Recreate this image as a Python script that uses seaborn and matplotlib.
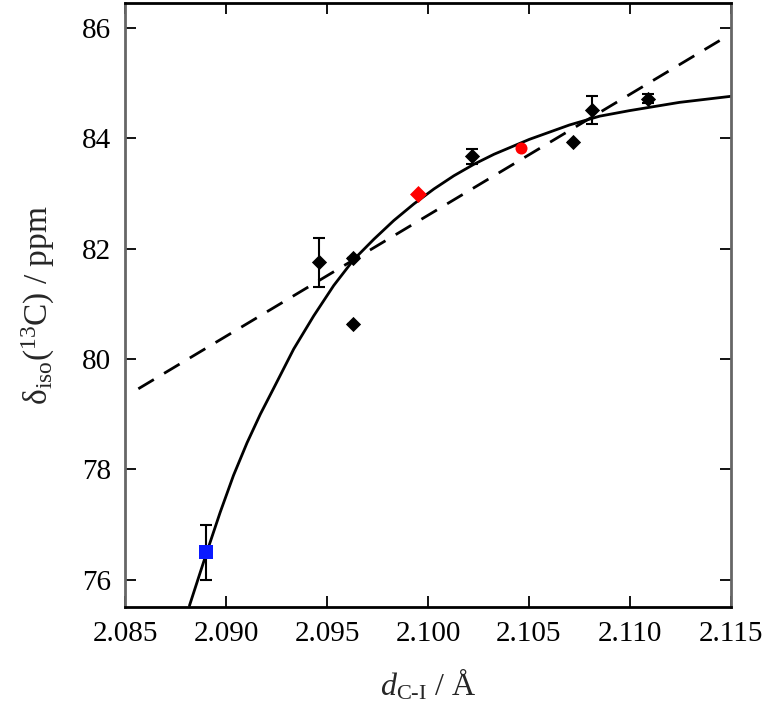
import matplotlib
matplotlib.use("Agg")
import matplotlib.pyplot as plt
import seaborn as sns

# measured shifts (black diamonds), with error bars
black_x = [2.0946, 2.0963, 2.0963, 2.1022, 2.1072, 2.1081, 2.1109]
black_y = [81.75, 81.83, 80.64, 83.67, 83.93, 84.51, 84.72]
black_err = [0.45, 0.0, 0.0, 0.13, 0.0, 0.26, 0.09]

red_diamond_x = [2.0995]
red_diamond_y = [82.99]
red_circle_x = [2.1046]
red_circle_y = [83.82]

blue_x = [2.0890]
blue_y = [76.5]
blue_err = [0.5]

# linear fit (dashed), end points
lin_x = [2.08566, 2.11444]
lin_y = [79.46, 85.77]

# non-linear fit (solid)
fit_x = [2.08819, 2.08905, 2.08971, 2.09037, 2.09104, 2.09170, 2.09236, 2.09335,
         2.09434, 2.09533, 2.09632, 2.09732, 2.09831, 2.09930, 2.10029, 2.10128,
         2.10228, 2.10327, 2.10502, 2.10700, 2.10850, 2.10997, 2.11245, 2.11500]
fit_y = [75.53, 76.50, 77.22, 77.89, 78.48, 79.00, 79.47, 80.18,
         80.78, 81.33, 81.80, 82.17, 82.51, 82.81, 83.08, 83.32,
         83.53, 83.71, 83.98, 84.24, 84.40, 84.50, 84.65, 84.76]

xticks = [2.085, 2.090, 2.095, 2.100, 2.105, 2.110, 2.115]
yticks = [76, 78, 80, 82, 84, 86]

sns.set_theme(style="ticks")
plt.rcParams.update({
    "font.family": ["Liberation Serif", "DejaVu Serif"],
    "mathtext.fontset": "custom",
    "mathtext.rm": "Liberation Serif",
    "mathtext.it": "Liberation Serif:italic",
    "mathtext.bf": "Liberation Serif:bold",
})

fig = plt.figure(figsize=(7.66, 7.23), dpi=100)
ax = fig.add_axes([0.1632, 0.16, 0.7911, 0.8358])

sns.lineplot(x=fit_x, y=fit_y, sort=False, estimator=None, color="black", lw=2.0, ax=ax)
sns.lineplot(x=lin_x, y=lin_y, sort=False, estimator=None, color="black", lw=2.0,
             dashes=False, ax=ax)
ax.lines[-1].set_dashes((6.5, 4.3))
for ln in ax.lines:
    ln.set_solid_joinstyle("round")

ax.errorbar(black_x, black_y, yerr=black_err, fmt="none", ecolor="black",
            elinewidth=1.5, capsize=4, capthick=1.5, zorder=3)
ax.errorbar(blue_x, blue_y, yerr=blue_err, fmt="none", ecolor="black",
            elinewidth=1.5, capsize=4, capthick=1.5, zorder=3)

sns.scatterplot(x=black_x, y=black_y, marker="D", s=60, color="black",
                edgecolor="black", linewidth=0, ax=ax, zorder=4)
sns.scatterplot(x=red_diamond_x, y=red_diamond_y, marker="D", s=75, color="red",
                linewidth=0, ax=ax, zorder=4)
sns.scatterplot(x=red_circle_x, y=red_circle_y, marker="o", s=75, color="red",
                linewidth=0, ax=ax, zorder=4)
sns.scatterplot(x=blue_x, y=blue_y, marker="s", s=110, color="#0a1aff",
                linewidth=0, ax=ax, zorder=4)

ax.set_xlim(2.085, 2.115)
ax.set_ylim(75.5, 86.45)
ax.set_xticks(xticks)
ax.set_xticklabels([f"{t:.3f}" for t in xticks])
ax.set_yticks(yticks)
ax.tick_params(direction="in", length=8, width=1.3, labelsize=21, colors="black",
               top=True, right=True, pad=10)

for side in ["top", "bottom"]:
    ax.spines[side].set_linewidth(2.0)
    ax.spines[side].set_color("black")
for side in ["left", "right"]:
    ax.spines[side].set_linewidth(2.0)
    ax.spines[side].set_color("#666666")

ax.set_xlabel(r"$d_{\mathrm{C\text{-}I}}$ / Å", fontsize=23, labelpad=14)
ax.set_ylabel(r"δ$_{\mathrm{iso}}$($^{13}$C) / ppm", fontsize=24, labelpad=18)

fig.savefig("out.png", dpi=100)
